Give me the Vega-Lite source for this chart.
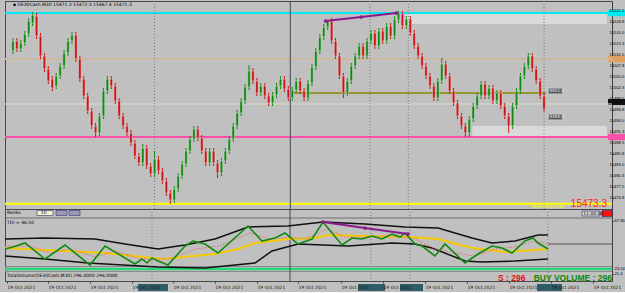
{
"$schema": "https://vega.github.io/schema/vega-lite/v6.json",
"background": "#c0c0c0",
"padding": 0,
"spacing": 0,
"bounds": "flush",
"config": {"view": {"stroke": "#4a4a4a", "strokeWidth": 1}, "font": "Liberation Sans", "text": {"font": "Liberation Sans"},
"axisY": {"labels": false, "tickSize": 1.5, "grid": false, "domainColor": "#404040", "tickColor": "#404040"},
"axisX": {"labelOverlap": false, "labelBound": false, "labelFlush": false, "grid": false}},
"datasets": {
"candles": [
{"t":0,"o":15511.5,"c":15514,"h":15514.75,"l":15510.75},
{"t":1,"o":15514,"c":15512,"h":15514.75,"l":15511.25},
{"t":2,"o":15512,"c":15513.5,"h":15514.25,"l":15511.25},
{"t":3,"o":15513.5,"c":15515.75,"h":15516.5,"l":15512.75},
{"t":4,"o":15515.75,"c":15519,"h":15519.75,"l":15515},
{"t":5,"o":15518.5,"c":15520.5,"h":15521.25,"l":15517.75},
{"t":6,"o":15520.25,"c":15515.25,"h":15521,"l":15514.5},
{"t":7,"o":15515.25,"c":15510.25,"h":15516,"l":15509.5},
{"t":8,"o":15510.25,"c":15507,"h":15511,"l":15506.25},
{"t":9,"o":15507,"c":15504,"h":15507.75,"l":15503.25},
{"t":10,"o":15504.5,"c":15502.25,"h":15505.25,"l":15501.5},
{"t":11,"o":15502.75,"c":15505.25,"h":15506,"l":15502},
{"t":12,"o":15505.25,"c":15507.75,"h":15508.5,"l":15504.5},
{"t":13,"o":15507.75,"c":15511,"h":15511.75,"l":15507},
{"t":14,"o":15511,"c":15514,"h":15514.75,"l":15510.25},
{"t":15,"o":15514,"c":15515.5,"h":15516.25,"l":15513.25},
{"t":16,"o":15515.5,"c":15509.5,"h":15516.25,"l":15508.75},
{"t":17,"o":15509.5,"c":15504.5,"h":15510.25,"l":15503.75},
{"t":18,"o":15504.5,"c":15500.25,"h":15505.25,"l":15499.5},
{"t":19,"o":15500.25,"c":15496.5,"h":15501,"l":15495.75},
{"t":20,"o":15496.5,"c":15492.75,"h":15497.25,"l":15492},
{"t":21,"o":15492.75,"c":15491,"h":15493.5,"l":15490},
{"t":22,"o":15491,"c":15495.25,"h":15496,"l":15490.25},
{"t":23,"o":15495.25,"c":15501.5,"h":15502.25,"l":15494.5},
{"t":24,"o":15501.5,"c":15504.5,"h":15505.25,"l":15500.75},
{"t":25,"o":15504.5,"c":15502.75,"h":15505.25,"l":15502},
{"t":26,"o":15502.75,"c":15499,"h":15503.5,"l":15498.25},
{"t":27,"o":15499,"c":15495.25,"h":15499.75,"l":15494.5},
{"t":28,"o":15495.25,"c":15492.75,"h":15496,"l":15492},
{"t":29,"o":15492.75,"c":15491,"h":15493.5,"l":15490.25},
{"t":30,"o":15491,"c":15488.5,"h":15491.75,"l":15487.75},
{"t":31,"o":15488.5,"c":15485.25,"h":15489.25,"l":15484.5},
{"t":32,"o":15485.25,"c":15483.5,"h":15486,"l":15482.75},
{"t":33,"o":15483.5,"c":15487.25,"h":15488.25,"l":15482.75},
{"t":34,"o":15487.25,"c":15482.75,"h":15488,"l":15482},
{"t":35,"o":15482.75,"c":15480.75,"h":15483.5,"l":15480},
{"t":36,"o":15480.75,"c":15484.5,"h":15486.5,"l":15480},
{"t":37,"o":15484.5,"c":15481.5,"h":15485.25,"l":15480.75},
{"t":38,"o":15481.5,"c":15479,"h":15482.25,"l":15478.25},
{"t":39,"o":15479,"c":15476,"h":15479.75,"l":15475.25},
{"t":40,"o":15476,"c":15474.25,"h":15476.75,"l":15473.25},
{"t":41,"o":15474.25,"c":15477,"h":15477.75,"l":15473.5},
{"t":42,"o":15477,"c":15480.25,"h":15481,"l":15476.25},
{"t":43,"o":15480.25,"c":15483.25,"h":15484,"l":15479.5},
{"t":44,"o":15483.25,"c":15486.5,"h":15487.25,"l":15482.5},
{"t":45,"o":15486.5,"c":15489.5,"h":15490.25,"l":15485.75},
{"t":46,"o":15489.5,"c":15492,"h":15492.75,"l":15488.75},
{"t":47,"o":15492,"c":15489.75,"h":15492.75,"l":15489},
{"t":48,"o":15489.75,"c":15486.5,"h":15490.5,"l":15485.75},
{"t":49,"o":15486.5,"c":15483.5,"h":15487.25,"l":15482.75},
{"t":50,"o":15483.5,"c":15486.5,"h":15487.25,"l":15482.75},
{"t":51,"o":15486.5,"c":15483.5,"h":15487.25,"l":15482.75},
{"t":52,"o":15483.5,"c":15481,"h":15484.25,"l":15479.75},
{"t":53,"o":15481,"c":15484,"h":15484.75,"l":15480.25},
{"t":54,"o":15484,"c":15486.5,"h":15487.25,"l":15483.25},
{"t":55,"o":15486.5,"c":15489.5,"h":15490.25,"l":15485.75},
{"t":56,"o":15489.5,"c":15492.75,"h":15493.5,"l":15488.75},
{"t":57,"o":15492.75,"c":15496,"h":15496.75,"l":15492},
{"t":58,"o":15496,"c":15499,"h":15499.75,"l":15495.25},
{"t":59,"o":15499,"c":15502.5,"h":15503.25,"l":15498.25},
{"t":60,"o":15502.5,"c":15506.5,"h":15508,"l":15501.75},
{"t":61,"o":15506.5,"c":15504,"h":15507.25,"l":15503.25},
{"t":62,"o":15504,"c":15501,"h":15504.75,"l":15500.25},
{"t":63,"o":15501,"c":15502.75,"h":15503.5,"l":15500.25},
{"t":64,"o":15502.75,"c":15500.25,"h":15503.5,"l":15499.5},
{"t":65,"o":15500.25,"c":15498.5,"h":15501,"l":15497.75},
{"t":66,"o":15498.5,"c":15500.5,"h":15501.25,"l":15497.75},
{"t":67,"o":15500.5,"c":15502.75,"h":15503.5,"l":15499.75},
{"t":68,"o":15502.75,"c":15504.5,"h":15505.25,"l":15502},
{"t":69,"o":15504.5,"c":15502,"h":15505.25,"l":15501.25},
{"t":70,"o":15502,"c":15499.75,"h":15502.75,"l":15499},
{"t":71,"o":15499.75,"c":15501.75,"h":15502.5,"l":15499},
{"t":72,"o":15501.75,"c":15504,"h":15504.75,"l":15501},
{"t":73,"o":15504,"c":15501.5,"h":15504.75,"l":15500.75},
{"t":74,"o":15501.5,"c":15499.75,"h":15502.25,"l":15499},
{"t":75,"o":15499.75,"c":15503.5,"h":15504.25,"l":15499},
{"t":76,"o":15503.5,"c":15507.5,"h":15508.25,"l":15502.75},
{"t":77,"o":15507.5,"c":15511.5,"h":15512.25,"l":15506.75},
{"t":78,"o":15511.5,"c":15515,"h":15515.75,"l":15510.75},
{"t":79,"o":15515,"c":15517.5,"h":15518.25,"l":15514.25},
{"t":80,"o":15517.5,"c":15519,"h":15519.25,"l":15516.75},
{"t":81,"o":15519,"c":15514,"h":15519.75,"l":15513.25},
{"t":82,"o":15514,"c":15510.25,"h":15514.75,"l":15509.5},
{"t":83,"o":15510.25,"c":15505.25,"h":15511,"l":15504.5},
{"t":84,"o":15505.25,"c":15501,"h":15506,"l":15499.75},
{"t":85,"o":15501,"c":15504,"h":15504.75,"l":15500.25},
{"t":86,"o":15504,"c":15507.75,"h":15508.5,"l":15503.25},
{"t":87,"o":15507.75,"c":15510.25,"h":15511,"l":15507},
{"t":88,"o":15510.25,"c":15512.75,"h":15513.5,"l":15509.5},
{"t":89,"o":15512.75,"c":15510.25,"h":15513.5,"l":15509.5},
{"t":90,"o":15510.25,"c":15514,"h":15514.75,"l":15509.5},
{"t":91,"o":15514,"c":15516,"h":15516.75,"l":15513.25},
{"t":92,"o":15516,"c":15512.75,"h":15516.75,"l":15512},
{"t":93,"o":15512.75,"c":15516.5,"h":15517.25,"l":15512},
{"t":94,"o":15516.5,"c":15514,"h":15517.25,"l":15513.25},
{"t":95,"o":15514,"c":15517.75,"h":15518.5,"l":15513.25},
{"t":96,"o":15517.75,"c":15515.25,"h":15518.5,"l":15514.5},
{"t":97,"o":15515.25,"c":15519.5,"h":15520.25,"l":15514.5},
{"t":98,"o":15519.25,"c":15521,"h":15521.5,"l":15518.5},
{"t":99,"o":15520.75,"c":15517.75,"h":15521.5,"l":15517},
{"t":100,"o":15517.75,"c":15519.5,"h":15520.25,"l":15517},
{"t":101,"o":15519.5,"c":15516,"h":15520.25,"l":15515.25},
{"t":102,"o":15516,"c":15512.75,"h":15516.75,"l":15512},
{"t":103,"o":15512.75,"c":15510.25,"h":15513.5,"l":15509.5},
{"t":104,"o":15510.25,"c":15507.75,"h":15511,"l":15507},
{"t":105,"o":15507.75,"c":15505.25,"h":15508.5,"l":15504.5},
{"t":106,"o":15505.25,"c":15502.75,"h":15506,"l":15502},
{"t":107,"o":15502.75,"c":15499.75,"h":15503.5,"l":15499},
{"t":108,"o":15499.75,"c":15504,"h":15504.75,"l":15499},
{"t":109,"o":15504,"c":15508.25,"h":15509.75,"l":15503.25},
{"t":110,"o":15508.25,"c":15505.25,"h":15509,"l":15504.5},
{"t":111,"o":15505.25,"c":15501.5,"h":15506,"l":15500.75},
{"t":112,"o":15501.5,"c":15498.5,"h":15502.25,"l":15497.75},
{"t":113,"o":15498.5,"c":15495.25,"h":15499.25,"l":15494.5},
{"t":114,"o":15495.25,"c":15492.75,"h":15496,"l":15492},
{"t":115,"o":15492.75,"c":15491,"h":15493.5,"l":15490},
{"t":116,"o":15491,"c":15494.5,"h":15495.25,"l":15490},
{"t":117,"o":15494.5,"c":15497.75,"h":15498.5,"l":15493.75},
{"t":118,"o":15497.75,"c":15500.25,"h":15501,"l":15497},
{"t":119,"o":15500.25,"c":15503.25,"h":15504,"l":15499.5},
{"t":120,"o":15503.25,"c":15500.25,"h":15504,"l":15499.5},
{"t":121,"o":15500.25,"c":15502.25,"h":15503,"l":15499.5},
{"t":122,"o":15502.25,"c":15499,"h":15503,"l":15498.25},
{"t":123,"o":15499,"c":15501,"h":15501.75,"l":15498.25},
{"t":124,"o":15501,"c":15497.75,"h":15501.75,"l":15497},
{"t":125,"o":15497.75,"c":15495.25,"h":15498.5,"l":15494.5},
{"t":126,"o":15495.25,"c":15492.75,"h":15496,"l":15491},
{"t":127,"o":15492.75,"c":15497.75,"h":15498.5,"l":15492},
{"t":128,"o":15497.75,"c":15501.5,"h":15502.25,"l":15497},
{"t":129,"o":15501.5,"c":15505.25,"h":15506,"l":15500.75},
{"t":130,"o":15505.25,"c":15507.75,"h":15508.5,"l":15504.5},
{"t":131,"o":15507.75,"c":15510.25,"h":15511,"l":15507},
{"t":132,"o":15510.25,"c":15507,"h":15511,"l":15506.25},
{"t":133,"o":15507,"c":15504,"h":15507.75,"l":15503.25},
{"t":134,"o":15504,"c":15500.25,"h":15504.75,"l":15499.5},
{"t":135,"o":15500.25,"c":15497,"h":15501,"l":15496.25}
],
"ind": [
{"s":"upper","t":-0.75,"v":52},{"s":"upper","t":9.25,"v":53},{"s":"upper","t":21.75,"v":52},{"s":"upper","t":29.25,"v":47},{"s":"upper","t":37.5,"v":42},{"s":"upper","t":44.25,"v":46},{"s":"upper","t":51.75,"v":52},{"s":"upper","t":60,"v":64},{"s":"upper","t":70,"v":65},{"s":"upper","t":78.75,"v":69},{"s":"upper","t":89.25,"v":67},{"s":"upper","t":99.25,"v":64},{"s":"upper","t":107.5,"v":63},{"s":"upper","t":116,"v":53},{"s":"upper","t":121,"v":48},{"s":"upper","t":126.75,"v":50},{"s":"upper","t":132.5,"v":56},{"s":"upper","t":135,"v":56},
{"s":"lower","t":-0.75,"v":35},{"s":"lower","t":9.25,"v":32},{"s":"lower","t":20,"v":28},{"s":"lower","t":37.5,"v":24},{"s":"lower","t":49.25,"v":23},{"s":"lower","t":61.75,"v":28},{"s":"lower","t":66,"v":40},{"s":"lower","t":72.5,"v":47},{"s":"lower","t":85,"v":45},{"s":"lower","t":96,"v":48},{"s":"lower","t":101.75,"v":47},{"s":"lower","t":106,"v":43},{"s":"lower","t":114.25,"v":30},{"s":"lower","t":118.5,"v":29},{"s":"lower","t":126.75,"v":30},{"s":"lower","t":135,"v":32},
{"s":"yellow","t":-0.75,"v":43},{"s":"yellow","t":24.25,"v":38},{"s":"yellow","t":38.5,"v":32},{"s":"yellow","t":51.75,"v":37},{"s":"yellow","t":57.5,"v":42},{"s":"yellow","t":61.75,"v":48},{"s":"yellow","t":70,"v":52},{"s":"yellow","t":76.75,"v":53},{"s":"yellow","t":80,"v":56},{"s":"yellow","t":89.25,"v":55},{"s":"yellow","t":100,"v":54},{"s":"yellow","t":107.5,"v":52},{"s":"yellow","t":116,"v":43},{"s":"yellow","t":124.25,"v":39},{"s":"yellow","t":135,"v":42},
{"s":"signal","t":-0.75,"v":45},{"s":"signal","t":5.5,"v":45},{"s":"signal","t":10.5,"v":38},{"s":"signal","t":15.5,"v":42},{"s":"signal","t":21.75,"v":34},{"s":"signal","t":26.75,"v":40},{"s":"signal","t":33,"v":32},{"s":"signal","t":40.5,"v":32},{"s":"signal","t":46.75,"v":42},{"s":"signal","t":53,"v":45},{"s":"signal","t":60.5,"v":58},{"s":"signal","t":65.5,"v":52},{"s":"signal","t":70.5,"v":54},{"s":"signal","t":74.25,"v":52},{"s":"signal","t":79.75,"v":62},{"s":"signal","t":84.25,"v":54},{"s":"signal","t":89.25,"v":54},{"s":"signal","t":96.75,"v":55},{"s":"signal","t":101.75,"v":52},{"s":"signal","t":106.75,"v":42},{"s":"signal","t":111.75,"v":38},{"s":"signal","t":116.75,"v":35},{"s":"signal","t":121.75,"v":42},{"s":"signal","t":126.75,"v":44},{"s":"signal","t":131.75,"v":50},{"s":"signal","t":135,"v":47},
{"s":"green","t":-0.75,"v":42},{"s":"green","t":1.25,"v":44},{"s":"green","t":4.25,"v":48},{"s":"green","t":9.25,"v":32},{"s":"green","t":14.25,"v":46},{"s":"green","t":20.5,"v":26},{"s":"green","t":24.25,"v":45},{"s":"green","t":31.75,"v":27},{"s":"green","t":33.5,"v":32},{"s":"green","t":34.75,"v":28},{"s":"green","t":36,"v":33},{"s":"green","t":37.5,"v":30},{"s":"green","t":40,"v":26},{"s":"green","t":44.25,"v":45},{"s":"green","t":46.25,"v":50},{"s":"green","t":49.25,"v":47},{"s":"green","t":52.5,"v":38},{"s":"green","t":60,"v":65},{"s":"green","t":63.5,"v":50},{"s":"green","t":66.75,"v":53},{"s":"green","t":69.25,"v":58},{"s":"green","t":72.5,"v":47},{"s":"green","t":76,"v":52},{"s":"green","t":78.75,"v":69},{"s":"green","t":83.5,"v":46},{"s":"green","t":86,"v":53},{"s":"green","t":88.5,"v":52},{"s":"green","t":91,"v":55},{"s":"green","t":93.5,"v":52},{"s":"green","t":96,"v":57},{"s":"green","t":98,"v":54},{"s":"green","t":99.25,"v":58},{"s":"green","t":101.75,"v":47},{"s":"green","t":103.5,"v":45},{"s":"green","t":106.75,"v":35},{"s":"green","t":109.25,"v":47},{"s":"green","t":114.25,"v":28},{"s":"green","t":117.5,"v":37},{"s":"green","t":121,"v":45},{"s":"green","t":123.5,"v":43},{"s":"green","t":126,"v":38},{"s":"green","t":129.25,"v":50},{"s":"green","t":131.25,"v":53},{"s":"green","t":132.5,"v":48},{"s":"green","t":135,"v":42}
],
"vlines": [{"t":36,"k":"dot"},{"t":90.75,"k":"dot"},{"t":100.5,"k":"dot"},{"t":135,"k":"dot"},{"t":70.5,"k":"solid"}],
"priceTicks": [{"p":15521.5},{"p":15518.8},{"p":15516.0},{"p":15513.3},{"p":15510.5},{"p":15507.8},{"p":15505.0},{"p":15502.3},{"p":15499.5},{"p":15496.8},{"p":15494.0},{"p":15491.3},{"p":15488.5},{"p":15485.8},{"p":15483.0},{"p":15480.3},{"p":15477.5},{"p":15474.8}]
},
"vconcat": [
{
"width": 607,
"height": 208,
"resolve": {"scale": {"color": "independent"}},
"layer": [
{
"data": {"values": [
{"t":98.75,"t2":151,"p":15520.75,"p2":15518.25,"k":"zone"},
{"t":116.75,"t2":151,"p":15492.75,"p2":15490,"k":"zone"},
{"t":97.5,"t2":99.75,"p":15520.75,"p2":15518.5,"k":"peak"},
{"t":151.25,"t2":157,"p":15521.8,"p2":15520.2,"k":"tagcyan"},
{"t":151.25,"t2":157,"p":15510.3,"p2":15508.7,"k":"tagtan"},
{"t":151.25,"t2":157,"p":15499.5,"p2":15498,"k":"tagcur"},
{"t":151.25,"t2":157,"p":15490.8,"p2":15489.2,"k":"tagpink"}
]},
"mark": {"type": "rect"},
"encoding": {
"x": {"field":"t","type":"quantitative","scale":{"domain":[-0.75,151],"nice":false,"zero":false},"axis":null,"title":null},
"x2": {"field":"t2"},
"y": {"field":"p","type":"quantitative","scale":{"domain":[15472,15524],"nice":false,"zero":false},"title":null,
"axis":{"orient":"right","values":[15521.5,15518.8,15516.0,15513.3,15510.5,15507.8,15505.0,15502.3,15499.5,15496.8,15494.0,15491.3,15488.5,15485.8,15483.0,15480.3,15477.5,15474.8],"labels":false}},
"y2": {"field":"p2"},
"color": {"field":"k","type":"nominal","scale":{"domain":["zone","peak","tagcyan","tagtan","tagcur","tagpink"],"range":["#d9d9d9","#e6a8de","#00e8f0","#e0a060","#101010","#ff4fa6"]},"legend":null}
}
},
{
"data": {"values": [{"p":15521,"k":"cyan"},{"p":15509.5,"k":"tan"},{"p":15490,"k":"pink"},{"p":15473.3,"k":"yellow"}]},
"mark": {"type": "rule", "strokeWidth": 2},
"encoding": {
"y": {"field":"p","type":"quantitative","scale":{"domain":[15472,15524],"nice":false,"zero":false},"title":null},
"color": {"field":"k","type":"nominal","scale":{"domain":["cyan","tan","pink","yellow"],"range":["#00e8f0","#cdb9a2","#ff4fa6","#ffff00"]},"legend":null}
}
},
{
"data": {"values": [{"p":15498.25}]},
"mark": {"type": "rule", "strokeWidth": 1, "color": "#dcdcc8"},
"encoding": {"y": {"field":"p","type":"quantitative","scale":{"domain":[15472,15524],"nice":false,"zero":false},"title":null}}
},
{
"data": {"values": [{"t":71,"t2":135.5,"p":15501}]},
"mark": {"type": "rule", "strokeWidth": 1.5, "color": "#8a8a00"},
"encoding": {
"x": {"field":"t","type":"quantitative","scale":{"domain":[-0.75,151],"nice":false,"zero":false},"axis":null,"title":null},
"x2": {"field":"t2"},
"y": {"field":"p","type":"quantitative","scale":{"domain":[15472,15524],"nice":false,"zero":false},"title":null}
}
},
{
"data": {"name": "vlines"},
"transform": [{"filter": "datum.k == 'dot'"}],
"mark": {"type": "rule", "strokeWidth": 1, "color": "#7a7a7a", "strokeDash": [1, 2]},
"encoding": {"x": {"field":"t","type":"quantitative","scale":{"domain":[-0.75,151],"nice":false,"zero":false},"axis":null,"title":null}}
},
{
"data": {"name": "vlines"},
"transform": [{"filter": "datum.k == 'solid'"}],
"mark": {"type": "rule", "strokeWidth": 1, "color": "#3c4650"},
"encoding": {"x": {"field":"t","type":"quantitative","scale":{"domain":[-0.75,151],"nice":false,"zero":false},"axis":null,"title":null}}
},
{
"data": {"name": "candles"},
"mark": {"type": "rule", "strokeWidth": 1},
"encoding": {
"x": {"field":"t","type":"quantitative","scale":{"domain":[-0.75,151],"nice":false,"zero":false},"axis":null,"title":null},
"y": {"field":"l","type":"quantitative","scale":{"domain":[15472,15524],"nice":false,"zero":false},"title":null},
"y2": {"field":"h"},
"color": {"condition": {"test": "datum.c >= datum.o", "value": "#128a12"}, "value": "#cc1515"}
}
},
{
"data": {"name": "candles"},
"mark": {"type": "bar", "width": 2.6, "stroke": "#e2e2e2", "strokeWidth": 0.5},
"encoding": {
"x": {"field":"t","type":"quantitative","scale":{"domain":[-0.75,151],"nice":false,"zero":false},"axis":null,"title":null},
"y": {"field":"o","type":"quantitative","scale":{"domain":[15472,15524],"nice":false,"zero":false},"title":null},
"y2": {"field":"c"},
"color": {"condition": {"test": "datum.c >= datum.o", "value": "#128a12"}, "value": "#cc1515"}
}
},
{
"data": {"values": [{"t":79.5,"p":15519},{"t":88.5,"p":15520},{"t":97.5,"p":15521}]},
"mark": {"type": "line", "color": "#8b1a8b", "strokeWidth": 2, "point": {"filled": true, "size": 14, "color": "#8b1a8b"}},
"encoding": {
"x": {"field":"t","type":"quantitative","scale":{"domain":[-0.75,151],"nice":false,"zero":false},"axis":null,"title":null},
"y": {"field":"p","type":"quantitative","scale":{"domain":[15472,15524],"nice":false,"zero":false},"title":null}
}
},
{
"data": {"values": [{"t":136,"t2":139.75,"p":15502.2,"p2":15500.8},{"t":136,"t2":139.75,"p":15495.7,"p2":15494.3}]},
"mark": {"type": "rect", "color": "#5a5a5a", "stroke": "#e0e0e0", "strokeWidth": 0.5},
"encoding": {
"x": {"field":"t","type":"quantitative","scale":{"domain":[-0.75,151],"nice":false,"zero":false},"axis":null,"title":null},
"x2": {"field":"t2"},
"y": {"field":"p","type":"quantitative","scale":{"domain":[15472,15524],"nice":false,"zero":false},"title":null},
"y2": {"field":"p2"}
}
},
{
"data": {"values": [{"t":137.9,"p":15501.5,"label":"15501.0"},{"t":137.9,"p":15495,"label":"15495.0"}]},
"mark": {"type": "text", "fontSize": 4, "color": "#f0f0f0", "align": "center", "baseline": "middle", "font": "DejaVu Sans"},
"encoding": {
"x": {"field":"t","type":"quantitative","scale":{"domain":[-0.75,151],"nice":false,"zero":false},"axis":null,"title":null},
"y": {"field":"p","type":"quantitative","scale":{"domain":[15472,15524],"nice":false,"zero":false},"title":null},
"text": {"field":"label"}
}
},
{
"data": {"name": "priceTicks"},
"mark": {"type": "text", "fontSize": 4.1, "color": "#000000", "align": "left", "baseline": "middle", "dx": 2.5, "font": "Liberation Sans"},
"encoding": {
"x": {"datum": 151, "type":"quantitative","scale":{"domain":[-0.75,151],"nice":false,"zero":false},"axis":null,"title":null},
"y": {"field":"p","type":"quantitative","scale":{"domain":[15472,15524],"nice":false,"zero":false},"title":null},
"text": {"field":"p","type":"quantitative","format":".1f"}
}
},
{
"data": {"values": [{"t":0,"p":15523,"label":"▪ DE30Cash,M30  15471.3 15472.3 15467.4 15471.3"}]},
"mark": {"type": "text", "fontSize": 4.5, "color": "#000000", "align": "left", "baseline": "middle", "font": "DejaVu Sans"},
"encoding": {
"x": {"field":"t","type":"quantitative","scale":{"domain":[-0.75,151],"nice":false,"zero":false},"axis":null,"title":null},
"y": {"field":"p","type":"quantitative","scale":{"domain":[15472,15524],"nice":false,"zero":false},"title":null},
"text": {"field":"label"}
}
},
{
"data": {"values": [{"t":131.75,"p":15472.6,"label":"Yesterday Low"}]},
"mark": {"type": "text", "fontSize": 4.5, "color": "#ffff00", "align": "left", "baseline": "middle", "font": "DejaVu Sans"},
"encoding": {
"x": {"field":"t","type":"quantitative","scale":{"domain":[-0.75,151],"nice":false,"zero":false},"axis":null,"title":null},
"y": {"field":"p","type":"quantitative","scale":{"domain":[15472,15524],"nice":false,"zero":false},"title":null},
"text": {"field":"label"}
}
},
{
"data": {"values": [{"t":151,"p":15473.25,"label":"15473.3"}]},
"mark": {"type": "text", "fontSize": 10, "color": "#ff2020", "align": "right", "baseline": "middle"},
"encoding": {
"x": {"field":"t","type":"quantitative","scale":{"domain":[-0.75,151],"nice":false,"zero":false},"axis":null,"title":null},
"y": {"field":"p","type":"quantitative","scale":{"domain":[15472,15524],"nice":false,"zero":false},"title":null},
"text": {"field":"label"}
}
}
]
},
{
"width": 607,
"height": 72,
"resolve": {"scale": {"color": "independent"}},
"layer": [
{
"data": {"values": [{"t":32.5,"t2":40,"v":7,"v2":0},{"t":87.5,"t2":94.25,"v":7,"v2":0},{"t":98,"t2":103.75,"v":7,"v2":0},{"t":132.25,"t2":138.5,"v":7,"v2":0}]},
"mark": {"type": "rect", "color": "#2f5c66"},
"encoding": {
"x": {"field":"t","type":"quantitative","scale":{"domain":[-0.75,151],"nice":false,"zero":false},"title":null,
"axis":{"values":[-0.25,4.75,10,15,20.5,25.75,31,36,41.25,46.25,51.75,56.75,62.25,67.5,72.5,78,83.25,88.5,93.75,99,104.25,109.5,114.75,120,125.25,130.5,135.75,141,146.25],"labelExpr":"'19 Oct 2021'","labelAlign":"left","labelFontSize":4.5,"labelFont":"DejaVu Sans","tickSize":2,"labelPadding":1,"labelOverlap":false,"zindex":1,"domain":false,"labelColor":"#101010","tickColor":"#404040"}},
"x2": {"field":"t2"},
"y": {"field":"v","type":"quantitative","scale":{"domain":[10,82],"nice":false,"zero":false},"title":null,
"axis":{"orient":"right","values":[70,22,17],"labels":false}},
"y2": {"field":"v2"}
}
},
{
"data": {"values": [
{"t":7.25,"t2":11.25,"v":80.5,"v2":75.5,"k":"input"},
{"t":12,"t2":14.75,"v":80.5,"v2":75.5,"k":"btn"},
{"t":15.25,"t2":18,"v":80.5,"v2":75.5,"k":"btn"},
{"t":143.5,"t2":148,"v":80,"v2":75,"k":"clock"},
{"t":148.5,"t2":151,"v":80.5,"v2":74.5,"k":"red"}
]},
"mark": {"type": "rect", "stroke": "#30307a", "strokeWidth": 0.6},
"encoding": {
"x": {"field":"t","type":"quantitative","scale":{"domain":[-0.75,151],"nice":false,"zero":false},"title":null},
"x2": {"field":"t2"},
"y": {"field":"v","type":"quantitative","scale":{"domain":[10,82],"nice":false,"zero":false},"title":null},
"y2": {"field":"v2"},
"color": {"field":"k","type":"nominal","scale":{"domain":["input","btn","clock","red"],"range":["#f4f4c8","#9a9ab0","#d8d8d8","#ff1010"]},"legend":null}
}
},
{
"data": {"values": [{"v":73,"k":"sep"},{"v":24.5,"k":"g1"},{"v":19.5,"k":"g2"}]},
"mark": {"type": "rule", "strokeWidth": 1.2},
"encoding": {
"y": {"field":"v","type":"quantitative","scale":{"domain":[10,82],"nice":false,"zero":false},"title":null},
"color": {"field":"k","type":"nominal","scale":{"domain":["sep","g1","g2"],"range":["#6e6e6e","#8a8a8a","#8a8a8a"]},"legend":null}
}
},
{
"data": {"values": [{"v":22}]},
"mark": {"type": "rule", "strokeWidth": 2.5, "color": "#2ed47a"},
"encoding": {"y": {"field":"v","type":"quantitative","scale":{"domain":[10,82],"nice":false,"zero":false},"title":null}}
},
{
"data": {"values": [{"t":135,"t2":151,"v":47}]},
"mark": {"type": "rule", "strokeWidth": 1, "color": "#555555"},
"encoding": {
"x": {"field":"t","type":"quantitative","scale":{"domain":[-0.75,151],"nice":false,"zero":false},"title":null},
"x2": {"field":"t2"},
"y": {"field":"v","type":"quantitative","scale":{"domain":[10,82],"nice":false,"zero":false},"title":null}
}
},
{
"data": {"name": "vlines"},
"transform": [{"filter": "datum.k == 'dot'"}],
"mark": {"type": "rule", "strokeWidth": 1, "color": "#7a7a7a", "strokeDash": [1, 2]},
"encoding": {"x": {"field":"t","type":"quantitative","scale":{"domain":[-0.75,151],"nice":false,"zero":false},"title":null}}
},
{
"data": {"name": "vlines"},
"transform": [{"filter": "datum.k == 'solid'"}],
"mark": {"type": "rule", "strokeWidth": 1, "color": "#3c4650"},
"encoding": {"x": {"field":"t","type":"quantitative","scale":{"domain":[-0.75,151],"nice":false,"zero":false},"title":null}}
},
{
"data": {"name": "ind"},
"transform": [{"filter": "datum.s == 'upper' || datum.s == 'lower'"}],
"mark": {"type": "line", "color": "#111111", "strokeWidth": 1.5},
"encoding": {
"x": {"field":"t","type":"quantitative","scale":{"domain":[-0.75,151],"nice":false,"zero":false},"title":null},
"y": {"field":"v","type":"quantitative","scale":{"domain":[10,82],"nice":false,"zero":false},"title":null},
"detail": {"field":"s"}
}
},
{
"data": {"name": "ind"},
"transform": [{"filter": "datum.s == 'yellow'"}],
"mark": {"type": "line", "color": "#f5c800", "strokeWidth": 2},
"encoding": {
"x": {"field":"t","type":"quantitative","scale":{"domain":[-0.75,151],"nice":false,"zero":false},"title":null},
"y": {"field":"v","type":"quantitative","scale":{"domain":[10,82],"nice":false,"zero":false},"title":null}
}
},
{
"data": {"name": "ind"},
"transform": [{"filter": "datum.s == 'signal'"}],
"mark": {"type": "line", "color": "#e86a6a", "strokeWidth": 1, "strokeDash": [1.5, 1.5]},
"encoding": {
"x": {"field":"t","type":"quantitative","scale":{"domain":[-0.75,151],"nice":false,"zero":false},"title":null},
"y": {"field":"v","type":"quantitative","scale":{"domain":[10,82],"nice":false,"zero":false},"title":null}
}
},
{
"data": {"name": "ind"},
"transform": [{"filter": "datum.s == 'green'"}],
"mark": {"type": "line", "color": "#108a10", "strokeWidth": 1.6},
"encoding": {
"x": {"field":"t","type":"quantitative","scale":{"domain":[-0.75,151],"nice":false,"zero":false},"title":null},
"y": {"field":"v","type":"quantitative","scale":{"domain":[10,82],"nice":false,"zero":false},"title":null}
}
},
{
"data": {"values": [{"t":78.75,"v":69},{"t":89.25,"v":63},{"t":100,"v":57}]},
"mark": {"type": "line", "color": "#8b1a8b", "strokeWidth": 2, "point": {"filled": true, "size": 14, "color": "#8b1a8b"}},
"encoding": {
"x": {"field":"t","type":"quantitative","scale":{"domain":[-0.75,151],"nice":false,"zero":false},"title":null},
"y": {"field":"v","type":"quantitative","scale":{"domain":[10,82],"nice":false,"zero":false},"title":null}
}
},
{
"data": {"values": [{"v":70,"label":"67.86"},{"v":22.5,"label":"23.54"},{"v":17,"label":"21.4"}]},
"mark": {"type": "text", "fontSize": 4.1, "color": "#000000", "align": "left", "baseline": "middle", "dx": 2.5, "font": "Liberation Sans"},
"encoding": {
"x": {"datum": 151, "type":"quantitative","scale":{"domain":[-0.75,151],"nice":false,"zero":false},"title":null},
"y": {"field":"v","type":"quantitative","scale":{"domain":[10,82],"nice":false,"zero":false},"title":null},
"text": {"field":"label"}
}
},
{
"data": {"values": [
{"t":-0.25,"v":78,"label":"Renko"},
{"t":8.2,"v":78,"label":"10"},
{"t":-0.25,"v":68.5,"label":"TDI = 46.50"},
{"t":-0.25,"v":15.5,"label":"TotalVolume(DE30Cash,M30) 296.0000 296.0000"},
{"t":143.8,"v":77.5,"label":"11:00:00"}
]},
"mark": {"type": "text", "fontSize": 4.5, "color": "#000000", "align": "left", "baseline": "middle", "font": "DejaVu Sans"},
"encoding": {
"x": {"field":"t","type":"quantitative","scale":{"domain":[-0.75,151],"nice":false,"zero":false},"title":null},
"y": {"field":"v","type":"quantitative","scale":{"domain":[10,82],"nice":false,"zero":false},"title":null},
"text": {"field":"label"}
}
},
{
"data": {"values": [{"t":122.5,"v":13.5,"label":"S : 296"}]},
"mark": {"type": "text", "fontSize": 8.5, "fontWeight": "bold", "color": "#e01010", "align": "left", "baseline": "middle"},
"encoding": {
"x": {"field":"t","type":"quantitative","scale":{"domain":[-0.75,151],"nice":false,"zero":false},"title":null},
"y": {"field":"v","type":"quantitative","scale":{"domain":[10,82],"nice":false,"zero":false},"title":null},
"text": {"field":"label"}
}
},
{
"data": {"values": [{"t":151,"v":13.5,"label":"BUY VOLUME : 296"}]},
"mark": {"type": "text", "fontSize": 8.5, "fontWeight": "bold", "color": "#0c8a0c", "align": "right", "baseline": "middle"},
"encoding": {
"x": {"field":"t","type":"quantitative","scale":{"domain":[-0.75,151],"nice":false,"zero":false},"title":null},
"y": {"field":"v","type":"quantitative","scale":{"domain":[10,82],"nice":false,"zero":false},"title":null},
"text": {"field":"label"}
}
}
]
}
]
}
